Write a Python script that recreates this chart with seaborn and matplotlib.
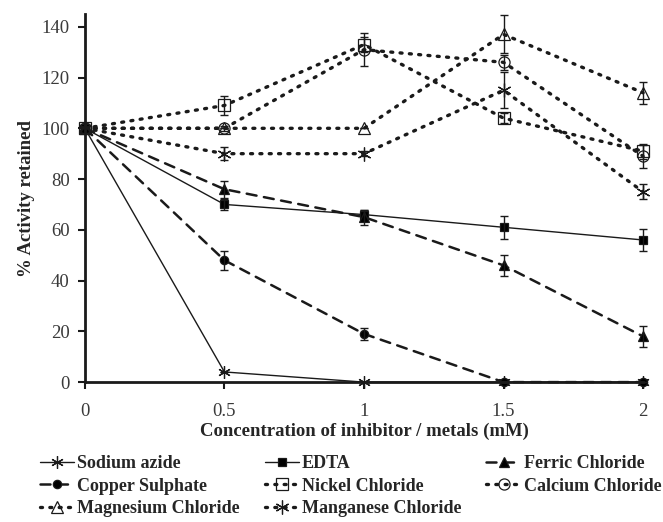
import pandas as pd
import matplotlib.pyplot as plt
import numpy as np
import seaborn as sns

conc = [0, 0.5, 1, 1.5, 2]

sodium_azide = [100, 4, 0, 0, 0]
edta = [100, 70, 66, 61, 56]
ferric = [100, 76, 65, 46, 18]
copper = [100, 48, 19, 0, 0]
nickel = [100, 109, 133, 104, 91]
calcium = [100, 100, 131, 126, 89]
magnesium = [100, 100, 100, 137, 114]
manganese = [100, 90, 90, 115, 75]

sodium_azide_err = [0, 0, 0, 0, 0]
edta_err = [0, 2, 2, 4.5, 4.5]
ferric_err = [0, 3.4, 3, 4, 4.3]
copper_err = [0, 3.8, 2.3, 0, 0]
nickel_err = [0, 3.6, 3, 2, 3]
calcium_err = [0, 1, 6.5, 3, 4.5]
magnesium_err = [0, 0, 0, 7.5, 4.3]
manganese_err = [0, 2.5, 1, 7, 3]

sns.set_style('ticks')
plt.rcParams['font.family'] = ['Liberation Serif', 'DejaVu Serif']

fig = plt.figure(figsize=(6.63, 5.22), dpi=100)
ax = fig.add_axes([0.128, 0.268, 0.842, 0.705])

dot = (0, (0.6, 2.2))
dash = (0, (4, 3))
asterisk = (6, 2, 0)

# ordered column-wise so the 3-column legend reads row by row
series = [
    ('Sodium azide', sodium_azide, sodium_azide_err, '-', asterisk, 'none', 1.0, 9),
    ('Copper Sulphate', copper, copper_err, dash, 'o', 'black', 1.8, 6),
    ('Magnesium Chloride', magnesium, magnesium_err, dot, '^', 'none', 2.4, 9),
    ('EDTA', edta, edta_err, '-', 's', 'black', 1.0, 6),
    ('Nickel Chloride', nickel, nickel_err, dot, 's', 'none', 2.4, 8),
    ('Manganese Chloride', manganese, manganese_err, dot, asterisk, 'none', 2.4, 10),
    ('Ferric Chloride', ferric, ferric_err, dash, '^', 'black', 1.8, 7),
    ('Calcium Chloride', calcium, calcium_err, dot, 'o', 'none', 2.4, 8),
]

handles = []
for name, vals, err, ls, mk, fc, lw, ms in series:
    df = pd.DataFrame({'conc': conc, 'act': vals})
    sns.lineplot(data=df, x='conc', y='act', ax=ax, color='#1a1a1a',
                 linestyle=ls, linewidth=lw, marker=mk, markersize=ms,
                 markerfacecolor=fc, markeredgecolor='#1a1a1a',
                 markeredgewidth=0.9, dash_capstyle='round', clip_on=False,
                 label=name, legend=False)
    line = ax.lines[-1]
    line.set_linestyle(ls)
    handles.append(line)
    ax.errorbar(conc, vals, yerr=err, fmt='none', ecolor='#1a1a1a',
                elinewidth=1.0, capsize=3, capthick=1.0, clip_on=False)

ax.set_xlim(0, 2)
ax.set_ylim(0, 145)
ax.set_xticks([0, 0.5, 1, 1.5, 2])
ax.set_xticklabels(['0', '0.5', '1', '1.5', '2'])
ax.set_yticks(range(0, 141, 20))
ax.tick_params(labelsize=13.5, width=1.5, length=5, color='#1a1a1a', labelcolor='#3a3a3a')
ax.tick_params(axis='x', pad=10)
ax.tick_params(axis='y', pad=6)
for s in ['left', 'bottom']:
    ax.spines[s].set_linewidth(2)
    ax.spines[s].set_color('#1a1a1a')
sns.despine(ax=ax)

ax.set_xlabel('Concentration of inhibitor / metals (mM)', fontsize=13.5, fontweight='bold', labelpad=2)
ax.set_ylabel('% Activity retained', fontsize=13.5, fontweight='bold', labelpad=5)

fig.legend(handles=handles, labels=[s[0] for s in series], ncol=3,
           loc='upper left', bbox_to_anchor=(0.06, 0.128), frameon=False,
           prop={'weight': 'bold', 'size': 13}, handlelength=1.9,
           handletextpad=0.15, columnspacing=1.4, labelspacing=0.3,
           borderaxespad=0, borderpad=0)

fig.savefig('out.png', dpi=100)
